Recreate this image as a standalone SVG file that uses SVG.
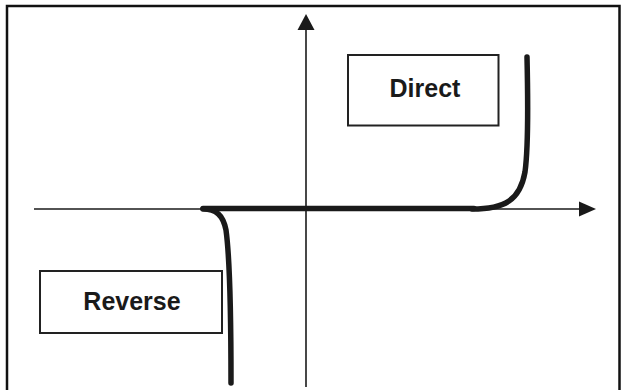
<svg xmlns="http://www.w3.org/2000/svg" width="622" height="390" viewBox="0 0 622 390">
<style>
.frame{stroke:#111;stroke-width:2.5;fill:none}
.axis{stroke:#1a1a1a;stroke-width:1.6;fill:none}
.curve{stroke:#1a1a1a;stroke-width:5.5;fill:none;stroke-linecap:round;stroke-linejoin:round}
.box{fill:#fff;stroke:#222;stroke-width:2}
.lbl{font-family:"Liberation Sans",Arial,sans-serif;font-weight:bold;font-size:25px;fill:#1a1a1a;text-anchor:middle}
</style>
<rect width="622" height="390" fill="#fff"/>
<g id="frame">
<path class="frame" d="M7,390 V6 H619.5 V390"/>
</g>
<g id="connectors">
<line class="axis" x1="34" y1="209" x2="582" y2="209"/>
<polygon points="596,209 579,201.5 579,216.5" fill="#1a1a1a"/>
<line class="axis" x1="306" y1="387" x2="306" y2="26"/>
<polygon points="306,14 297.5,30 314.5,30" fill="#1a1a1a"/>
<path class="curve" d="M203,208.5 H474"/>
<path class="curve" d="M472,209 C505,209 520,200 525,172 C528,150 528,100 527,57"/>
<path class="curve" d="M203,209 C216,209 223,215 226,230 C229,252 231,300 231,383"/>
</g>
<g id="direct">
<rect class="box" x="348" y="55" width="150.5" height="70.5"/>
<text class="lbl" x="425" y="97">Direct</text>
</g>
<g id="reverse">
<rect class="box" x="40" y="271" width="182" height="62"/>
<text class="lbl" x="132" y="310">Reverse</text>
</g>
</svg>
